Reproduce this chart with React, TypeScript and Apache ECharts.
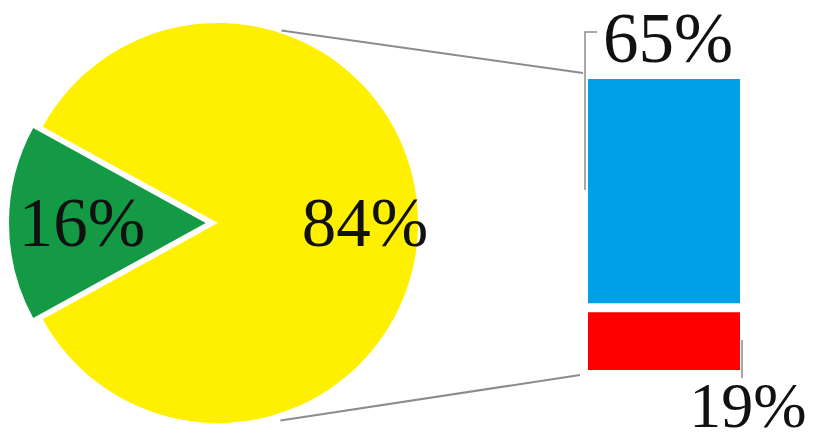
import React, { useEffect, useRef } from 'react';
import * as echarts from 'echarts';

const pieCategories = ['Segment A', 'Segment B'];
const pieValues = [16, 84];
const pieColors = ['#149A44', '#FFF000'];
const barCategories = ['Part 2', 'Part 1'];
const barValues = [19, 65];
const barColors = ['#FF0000', '#00A0E9'];

const FONT = '"Liberation Serif", "Times New Roman", serif';

export default function App() {
  const ref = useRef<HTMLDivElement>(null);
  useEffect(() => {
    const chart = echarts.init(ref.current!, null, { renderer: 'svg' });
    const cx = 218, cy = 223, r = 200;
    const explode = 10;
    const total = pieValues.reduce((a, b) => a + b, 0);
    const firstAngle = (pieValues[0] / total) * 360;
    const startAngle = 180 + firstAngle / 2;
    const midAngles: number[] = [];
    let acc = startAngle;
    pieValues.forEach((v) => {
      const a = (v / total) * 360;
      midAngles.push(acc - a / 2);
      acc -= a;
    });
    const labelFrac = [0.63, 0.735];
    const barTotal = barValues.reduce((a, b) => a + b, 0);
    const gridLeft = 588, gridWidth = 152, gridTop = 79, gridHeight = 291;

    // Exploded slice index 0 is drawn by its own pie series, shifted along its mid angle.
    const exA = (midAngles[0] * Math.PI) / 180;
    const centers = [
      [cx + explode * Math.cos(exA), cy - explode * Math.sin(exA)],
      [cx, cy],
    ];

    const makePie = (k: number) => ({
      type: 'pie',
      center: centers[k],
      radius: r,
      startAngle,
      clockwise: true,
      silent: true,
      emphasis: { disabled: true },
      z: k === 0 ? 3 : 2,
      data: pieValues.map((v, i) => ({
        name: pieCategories[i],
        value: v,
        itemStyle:
          i === k
            ? { color: pieColors[i], borderColor: '#ffffff', borderWidth: k === 0 ? 2 : 0 }
            : { color: 'rgba(0,0,0,0)', borderWidth: 0 },
        label: { show: i === k },
      })),
      label: {
        position: 'inside',
        formatter: '{c}%',
        fontFamily: FONT,
        fontSize: 69,
        color: '#111',
      },
      labelLine: { show: false },
      labelLayout: (p: any) => {
        const i = p.dataIndex;
        const a = (midAngles[i] * Math.PI) / 180;
        const d = labelFrac[i] * r;
        return {
          x: centers[k][0] + d * Math.cos(a),
          y: centers[k][1] - d * Math.sin(a),
          align: 'center',
          verticalAlign: 'middle',
        };
      },
    });

    const option: any = {
      animation: false,
      grid: { left: gridLeft, width: gridWidth, top: gridTop, height: gridHeight },
      xAxis: { type: 'category', data: ['bar'], show: false },
      yAxis: { type: 'value', min: 0, max: barTotal, show: false },
      series: [
        makePie(1),
        makePie(0),
        {
          type: 'bar',
          name: barCategories[0],
          stack: 's',
          barWidth: '100%',
          silent: true,
          data: [barValues[0]],
          itemStyle: { color: barColors[0] },
          label: {
            show: true,
            formatter: '{c}%',
            position: [160, 101],
            align: 'center',
            verticalAlign: 'middle',
            fontFamily: FONT,
            fontSize: 64,
            color: '#111',
          },
        },
        {
          type: 'bar',
          name: barCategories[1],
          stack: 's',
          barWidth: '100%',
          silent: true,
          data: [barValues[1]],
          itemStyle: { color: barColors[1] },
          label: {
            show: true,
            formatter: '{c}%',
            position: [80, -41],
            align: 'center',
            verticalAlign: 'middle',
            fontFamily: FONT,
            fontSize: 71,
            color: '#111',
          },
        },
      ],
    };
    chart.setOption(option);

    const top = chart.convertToPixel({ gridIndex: 0 }, [0, barTotal]) as number[];
    const bottom = chart.convertToPixel({ gridIndex: 0 }, [0, 0]) as number[];
    const split = chart.convertToPixel({ gridIndex: 0 }, [0, barValues[0]]) as number[];
    const barTop = top[1];
    const barBottom = bottom[1];
    const barLeft = gridLeft;
    const barRight = gridLeft + gridWidth;
    const conAngle = (71.5 * Math.PI) / 180;
    const pr = r + 3;
    const gray = '#8c8c8c';

    chart.setOption({
      graphic: [
        {
          type: 'rect',
          z: 100,
          shape: { x: barLeft - 2, y: split[1] - 1, width: gridWidth + 4, height: 9 },
          style: { fill: '#ffffff' },
        },
        {
          type: 'line',
          z: 100,
          shape: {
            x1: cx - 1 + pr * Math.cos(conAngle),
            y1: cy - pr * Math.sin(conAngle),
            x2: barLeft - 5,
            y2: barTop - 6,
          },
          style: { stroke: gray, lineWidth: 2 },
        },
        {
          type: 'line',
          z: 100,
          shape: {
            x1: cx - 2 + pr * Math.cos(conAngle),
            y1: cy + pr * Math.sin(conAngle) + 5,
            x2: barLeft - 8,
            y2: barBottom + 5,
          },
          style: { stroke: gray, lineWidth: 2 },
        },
        {
          type: 'polyline',
          z: 100,
          shape: {
            points: [
              [barLeft + 9, barTop - 47],
              [barLeft - 3, barTop - 47],
              [barLeft - 3, barTop + 111],
            ],
          },
          style: { stroke: gray, lineWidth: 1.5, fill: null },
        },
        {
          type: 'line',
          z: 100,
          shape: { x1: barRight + 2, y1: barBottom - 30, x2: barRight + 2, y2: barBottom + 8 },
          style: { stroke: gray, lineWidth: 1.5 },
        },
      ],
    });

    return () => chart.dispose();
  }, []);

  return (
    <div
      ref={ref}
      style={{ position: 'fixed', left: 0, top: 0, width: 820, height: 442, background: '#ffffff' }}
    />
  );
}
